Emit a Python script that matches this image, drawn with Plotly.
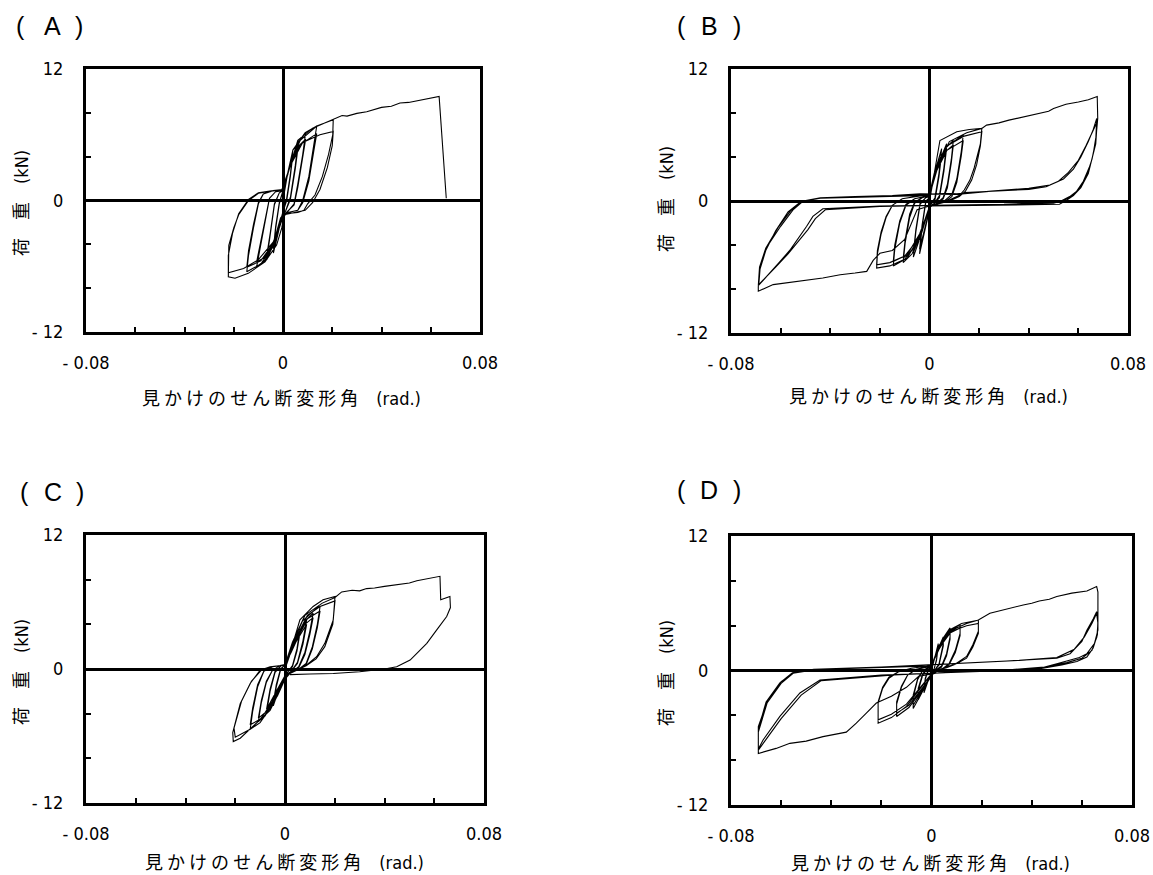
import plotly.graph_objects as go

# ---------------- data (x: rad, y: kN) ----------------
panel_labels = ["A", "B", "C", "D"]
x_tickvals = [-0.08, -0.06, -0.04, -0.02, 0, 0.02, 0.04, 0.06, 0.08]
x_ticktext = ["- 0.08", "", "", "", "0", "", "", "", "0.08"]
y_tickvals = [-12, -8, -4, 0, 4, 8, 12]
y_ticktext = ["- 12", "", "", "0", "", "", "12"]
x_title = "見 か け の せ ん 断 変 形 角　<span style='font-family:Liberation Sans Narrow, DejaVu Sans Condensed, sans-serif'>(rad.)</span>"
y_title = "荷　重　<span style='font-family:Liberation Sans Narrow, DejaVu Sans Condensed, sans-serif'>(kN)</span>"

A_path = [
    (0, 0),
    (0.0020, 2.6), (0.0040, 4.6), (0.0030, 2.4), (0.0015, 0.2), (0.0000, -1.0), (-0.0020, -3.0), (-0.0039, -4.8), (-0.0030, -2.6), (-0.0015, -0.3), (0.0000, 0.9),
    (0.0020, 2.5), (0.0040, 4.2), (0.0030, 2.2), (0.0015, 0.0), (0.0000, -1.0), (-0.0020, -2.8), (-0.0039, -4.4), (-0.0030, -2.4), (-0.0015, -0.2), (0.0000, 0.9),
    (0.0025, 3.0), (0.0062, 5.5), (0.0050, 3.2), (0.0030, 0.3), (0.0010, -1.0), (-0.0010, -1.6), (-0.0035, -3.8), (-0.0066, -5.4), (-0.0052, -3.2), (-0.0035, -0.4), (-0.0015, 0.7), (0.0000, 0.9),
    (0.0025, 2.9), (0.0062, 5.0), (0.0050, 2.9), (0.0030, 0.1), (0.0010, -1.0), (-0.0010, -1.6), (-0.0035, -3.6), (-0.0066, -5.0), (-0.0052, -3.0), (-0.0035, -0.3), (-0.0015, 0.7), (0.0000, 0.9),
    (0.0030, 3.3), (0.0060, 5.2), (0.0092, 6.2), (0.0080, 4.2), (0.0060, 1.5), (0.0045, -0.3), (0.0020, -1.0), (0.0000, -1.5), (-0.0040, -4.2), (-0.0075, -5.5), (-0.0107, -6.05), (-0.0092, -4.2), (-0.0070, -1.5), (-0.0055, 0.2), (-0.0030, 0.8), (0.0000, 0.9),
    (0.0030, 3.2), (0.0060, 4.9), (0.0092, 5.6), (0.0080, 3.8), (0.0060, 1.2), (0.0045, -0.4), (0.0020, -1.0), (0.0000, -1.4), (-0.0040, -4.0), (-0.0075, -5.2), (-0.0107, -5.6), (-0.0092, -3.9), (-0.0070, -1.3), (-0.0055, 0.2), (-0.0030, 0.8), (0.0000, 0.9),
    (0.0030, 3.4), (0.0070, 5.5), (0.0137, 6.8), (0.0125, 5.0), (0.0105, 2.2), (0.0080, 0.0), (0.0060, -0.9), (0.0020, -1.1), (0.0000, -1.5), (-0.0040, -4.1), (-0.0090, -5.8), (-0.0147, -6.5), (-0.0140, -5.0), (-0.0120, -2.5), (-0.0100, -0.3), (-0.0080, 0.6), (-0.0040, 0.9), (0.0000, 1.0),
    (0.0030, 3.2), (0.0070, 5.1), (0.0137, 6.1), (0.0125, 4.5), (0.0105, 1.8), (0.0080, -0.2), (0.0060, -0.9), (0.0020, -1.1), (0.0000, -1.4), (-0.0040, -3.9), (-0.0090, -5.5), (-0.0147, -6.1), (-0.0140, -4.6), (-0.0120, -2.2), (-0.0100, -0.2), (-0.0080, 0.6), (-0.0040, 0.9), (0.0000, 1.0),
    (0.0020, 2.4), (0.0040, 4.6), (0.0090, 6.2), (0.0137, 6.8), (0.0204, 7.36), (0.0202, 6.0), (0.0185, 4.2), (0.0160, 2.2), (0.0130, 0.5), (0.0100, -0.3), (0.0085, -0.9), (0.0060, -1.1), (0.0030, -1.15), (0.0005, -1.3), (-0.0005, -2.5), (-0.0026, -4.07), (-0.0073, -5.6), (-0.0141, -6.65), (-0.0195, -7.1), (-0.0222, -6.96),
    (-0.0222, -5.5), (-0.0220, -4.1), (-0.0200, -2.5), (-0.0180, -1.3), (-0.0140, 0.0), (-0.0100, 0.66), (-0.0050, 0.85), (-0.0005, 0.96),
    (0.0030, 3.2), (0.0080, 5.3), (0.0150, 6.0), (0.0204, 6.3), (0.0200, 5.0), (0.0180, 3.0), (0.0150, 1.0), (0.0120, -0.2), (0.0090, -0.9), (0.0040, -1.1), (0.0005, -1.3), (-0.0040, -3.8), (-0.0100, -5.4), (-0.0160, -6.2), (-0.0222, -6.6),
    (-0.0222, -5.0), (-0.0205, -3.0), (-0.0180, -1.2), (-0.0140, 0.1), (-0.0100, 0.7), (-0.0040, 0.9), (0.0000, 0.95),
    (0.0020, 2.5), (0.0060, 5.5), (0.0120, 6.6), (0.0204, 7.36), (0.0218, 7.5), (0.0240, 7.75), (0.0260, 7.7), (0.0300, 7.95), (0.0340, 8.1), (0.0370, 8.3), (0.0400, 8.5), (0.0440, 8.6), (0.0475, 8.9), (0.0510, 8.95), (0.0540, 9.1), (0.0570, 9.25), (0.0600, 9.4), (0.0634, 9.5), (0.0663, 0.2),
]

B_path = [
    (0, 0),
    (0.0020, 2.5), (0.0049, 4.75), (0.0038, 2.5), (0.0022, 0.3), (0.0005, -0.3), (-0.0018, -2.6), (-0.0040, -4.8), (-0.0030, -2.4), (-0.0015, -0.1), (0.0000, 0.3),
    (0.0020, 2.3), (0.0049, 4.3), (0.0038, 2.2), (0.0022, 0.1), (0.0005, -0.3), (-0.0018, -2.4), (-0.0040, -4.4), (-0.0030, -2.2), (-0.0015, 0.0), (0.0000, 0.3),
    (0.0025, 2.8), (0.0069, 5.2), (0.0058, 3.0), (0.0040, 0.5), (0.0020, -0.2), (0.0000, -0.5), (-0.0030, -2.8), (-0.0065, -5.1), (-0.0055, -2.8), (-0.0038, -0.3), (-0.0015, 0.3), (0.0000, 0.4),
    (0.0025, 2.6), (0.0069, 4.8), (0.0058, 2.7), (0.0040, 0.3), (0.0020, -0.2), (0.0000, -0.5), (-0.0030, -2.6), (-0.0065, -4.7), (-0.0055, -2.6), (-0.0038, -0.2), (-0.0015, 0.3), (0.0000, 0.4),
    (0.0030, 3.0), (0.0060, 4.7), (0.0096, 5.5), (0.0088, 3.8), (0.0072, 1.5), (0.0055, 0.3), (0.0030, -0.2), (0.0000, -0.5), (-0.0035, -3.0), (-0.0070, -4.8), (-0.0106, -5.6), (-0.0098, -3.8), (-0.0080, -1.5), (-0.0060, -0.2), (-0.0030, 0.3), (0.0000, 0.5),
    (0.0030, 2.8), (0.0060, 4.4), (0.0096, 5.1), (0.0088, 3.5), (0.0072, 1.2), (0.0055, 0.2), (0.0030, -0.2), (0.0000, -0.5), (-0.0035, -2.8), (-0.0070, -4.5), (-0.0106, -5.2), (-0.0098, -3.5), (-0.0080, -1.2), (-0.0060, -0.1), (-0.0030, 0.3), (0.0000, 0.5),
    (0.0030, 3.0), (0.0070, 5.0), (0.0136, 6.0), (0.0128, 4.5), (0.0110, 2.0), (0.0090, 0.6), (0.0060, 0.0), (0.0020, -0.3), (0.0000, -0.6), (-0.0040, -3.2), (-0.0090, -5.2), (-0.0146, -5.9), (-0.0140, -4.4), (-0.0120, -2.0), (-0.0095, -0.4), (-0.0060, 0.2), (-0.0020, 0.4), (0.0000, 0.6),
    (0.0030, 2.8), (0.0070, 4.6), (0.0136, 5.5), (0.0128, 4.1), (0.0110, 1.7), (0.0090, 0.4), (0.0060, -0.1), (0.0020, -0.3), (0.0000, -0.6), (-0.0040, -3.0), (-0.0090, -4.9), (-0.0146, -5.5), (-0.0140, -4.0), (-0.0120, -1.8), (-0.0095, -0.3), (-0.0060, 0.2), (-0.0020, 0.4), (0.0000, 0.6),
    (0.0020, 2.6), (0.0042, 5.5), (0.0110, 6.3), (0.0160, 6.5), (0.0211, 6.6), (0.0205, 5.2), (0.0196, 4.3), (0.0180, 3.0), (0.0163, 1.9), (0.0140, 1.0), (0.0123, 0.55), (0.0080, 0.1), (0.0030, -0.2), (0.0000, -0.5),
    (-0.0040, -3.5), (-0.0100, -5.3), (-0.0160, -5.9), (-0.0213, -6.1), (-0.0210, -4.8), (-0.0195, -3.0), (-0.0175, -1.5), (-0.0150, -0.4), (-0.0110, 0.2), (-0.0050, 0.4), (0.0000, 0.6),
    (0.0030, 3.2), (0.0070, 5.0), (0.0140, 5.9), (0.0211, 6.3), (0.0205, 5.0), (0.0190, 3.3), (0.0170, 1.9), (0.0145, 0.9), (0.0120, 0.4), (0.0080, 0.0), (0.0030, -0.3), (0.0000, -0.5),
    (-0.0040, -3.3), (-0.0100, -5.0), (-0.0160, -5.6), (-0.0213, -5.8), (-0.0210, -4.5), (-0.0195, -2.8), (-0.0175, -1.4), (-0.0150, -0.4), (-0.0110, 0.2), (-0.0050, 0.4), (0.0000, 0.6),
    (0.0030, 3.0), (0.0080, 5.4), (0.0150, 6.2), (0.0211, 6.6), (0.0230, 6.9), (0.0280, 7.1), (0.0320, 7.35), (0.0350, 7.5), (0.0400, 7.8), (0.0445, 8.0), (0.0480, 8.15), (0.0500, 8.4), (0.0550, 8.8), (0.0600, 9.0), (0.0640, 9.2), (0.0676, 9.5),
    (0.0678, 7.5), (0.0672, 6.0), (0.0660, 4.3), (0.0640, 2.5), (0.0610, 1.2), (0.0580, 0.5), (0.0555, 0.1), (0.0524, -0.3),
    (0.0400, -0.35), (0.0200, -0.4), (0.0000, -0.45), (-0.0050, -0.8),
    (-0.0100, -3.5), (-0.0150, -4.5), (-0.0200, -4.75), (-0.0227, -5.4), (-0.0253, -6.4), (-0.0300, -6.55), (-0.0360, -6.7), (-0.0430, -7.0), (-0.0495, -7.2), (-0.0560, -7.4), (-0.0630, -7.6), (-0.0690, -8.2),
    (-0.0690, -7.8), (-0.0683, -6.0), (-0.0656, -4.2), (-0.0600, -2.3), (-0.0550, -0.8), (-0.0509, 0.0), (-0.0440, 0.3),
    (-0.0300, 0.4), (-0.0150, 0.5), (-0.0038, 0.65), (0.0000, 0.65), (0.0110, 0.6), (0.0250, 0.9), (0.0400, 1.15), (0.0485, 1.45),
    (0.0540, 2.0), (0.0580, 2.9), (0.0610, 4.0), (0.0640, 5.4), (0.0660, 6.5), (0.0674, 7.5),
    (0.0670, 5.5), (0.0655, 3.8), (0.0630, 2.1), (0.0600, 1.0), (0.0565, 0.4), (0.0530, 0.0), (0.0500, -0.2),
    (0.0300, -0.3), (0.0000, -0.4), (-0.0200, -0.45), (-0.0430, -0.7),
    (-0.0470, -1.4), (-0.0495, -2.3), (-0.0530, -3.4), (-0.0560, -4.4), (-0.0610, -5.7), (-0.0656, -6.9), (-0.0690, -7.7),
    (-0.0685, -6.0), (-0.0660, -4.3), (-0.0610, -2.4), (-0.0560, -0.9), (-0.0515, -0.05), (-0.0440, 0.25), (-0.0200, 0.4), (0.0000, 0.6), (0.0200, 0.8), (0.0400, 1.05), (0.0470, 1.3),
    (0.0520, 1.8), (0.0560, 2.6), (0.0600, 3.7), (0.0630, 5.0), (0.0655, 6.2), (0.0676, 7.2),
    (0.0670, 5.2), (0.0650, 3.4), (0.0620, 1.8), (0.0590, 0.8), (0.0555, 0.2), (0.0520, -0.1), (0.0300, -0.3), (0.0000, -0.4), (-0.0200, -0.5), (-0.0420, -0.8),
    (-0.0460, -1.6), (-0.0490, -2.6), (-0.0530, -3.7), (-0.0570, -4.8), (-0.0620, -6.0), (-0.0660, -7.0), (-0.0688, -7.6),
    (-0.0683, -6.2), (-0.0660, -4.5), (-0.0620, -2.7), (-0.0570, -1.0), (-0.0520, -0.1), (-0.0450, 0.25), (-0.0200, 0.4), (0.0000, 0.5),
]

C_path = [
    (0, 0),
    (0.0025, 1.6), (0.0060, 3.5), (0.0048, 1.8), (0.0030, 0.3), (0.0010, -0.3), (-0.0020, -1.5), (-0.0047, -3.3), (-0.0035, -1.6), (-0.0018, -0.1), (0.0000, 0.4),
    (0.0025, 1.5), (0.0060, 3.2), (0.0048, 1.6), (0.0030, 0.2), (0.0010, -0.3), (-0.0020, -1.4), (-0.0047, -3.0), (-0.0035, -1.4), (-0.0018, 0.0), (0.0000, 0.4),
    (0.0030, 2.0), (0.0087, 4.4), (0.0072, 2.5), (0.0050, 0.6), (0.0025, -0.2), (0.0000, -0.6), (-0.0035, -2.2), (-0.0074, -3.9), (-0.0060, -2.0), (-0.0040, -0.3), (-0.0015, 0.3), (0.0000, 0.4),
    (0.0030, 1.9), (0.0087, 4.0), (0.0072, 2.2), (0.0050, 0.5), (0.0025, -0.2), (0.0000, -0.6), (-0.0035, -2.0), (-0.0074, -3.6), (-0.0060, -1.8), (-0.0040, -0.2), (-0.0015, 0.3), (0.0000, 0.4),
    (0.0040, 2.5), (0.0080, 4.3), (0.0113, 5.0), (0.0100, 3.4), (0.0080, 1.5), (0.0055, 0.2), (0.0025, -0.3), (0.0000, -0.7), (-0.0040, -2.6), (-0.0080, -4.2), (-0.0107, -4.7), (-0.0095, -3.0), (-0.0075, -1.2), (-0.0050, -0.1), (-0.0020, 0.3), (0.0000, 0.4),
    (0.0040, 2.4), (0.0080, 4.0), (0.0113, 4.6), (0.0100, 3.1), (0.0080, 1.3), (0.0055, 0.1), (0.0025, -0.3), (0.0000, -0.7), (-0.0040, -2.5), (-0.0080, -3.9), (-0.0107, -4.4), (-0.0095, -2.8), (-0.0075, -1.1), (-0.0050, -0.1), (-0.0020, 0.3), (0.0000, 0.4),
    (0.0040, 2.6), (0.0090, 4.8), (0.0141, 5.6), (0.0130, 4.0), (0.0110, 2.0), (0.0085, 0.5), (0.0050, -0.1), (0.0020, -0.3), (0.0000, -0.8), (-0.0050, -3.2), (-0.0100, -4.8), (-0.0140, -5.4), (-0.0130, -3.8), (-0.0110, -1.6), (-0.0085, -0.2), (-0.0050, 0.2), (-0.0020, 0.3), (0.0000, 0.4),
    (0.0040, 2.5), (0.0090, 4.5), (0.0141, 5.2), (0.0130, 3.7), (0.0110, 1.8), (0.0085, 0.4), (0.0050, -0.1), (0.0020, -0.3), (0.0000, -0.8), (-0.0050, -3.0), (-0.0100, -4.5), (-0.0140, -5.0), (-0.0130, -3.5), (-0.0110, -1.4), (-0.0085, -0.2), (-0.0050, 0.2), (-0.0020, 0.3), (0.0000, 0.4),
    (0.0020, 1.4), (0.0060, 4.4), (0.0113, 5.6), (0.0153, 6.2), (0.0201, 6.5), (0.0194, 4.4), (0.0160, 2.3), (0.0127, 1.1), (0.0087, 0.36), (0.0047, -0.1), (0.0020, -0.4), (0.0000, -0.9),
    (-0.0020, -1.9), (-0.0060, -3.7), (-0.0127, -5.1), (-0.0180, -6.2), (-0.0208, -6.5), (-0.0210, -5.7), (-0.0180, -3.1), (-0.0140, -1.3), (-0.0100, -0.1), (-0.0060, 0.2), (0.0000, 0.36),
    (0.0030, 2.2), (0.0070, 4.3), (0.0130, 5.5), (0.0201, 6.1), (0.0192, 4.0), (0.0160, 2.0), (0.0125, 0.9), (0.0085, 0.3), (0.0045, -0.1), (0.0020, -0.4), (0.0000, -0.9),
    (-0.0030, -2.4), (-0.0080, -4.1), (-0.0140, -5.4), (-0.0200, -6.1), (-0.0205, -5.3), (-0.0175, -2.9), (-0.0135, -1.1), (-0.0095, -0.1), (-0.0055, 0.2), (0.0000, 0.36),
    (0.0030, 2.4), (0.0080, 4.8), (0.0150, 5.9), (0.0201, 6.4), (0.0228, 6.9), (0.0270, 7.05), (0.0300, 7.0), (0.0328, 7.2), (0.0360, 7.25), (0.0400, 7.4), (0.0462, 7.6), (0.0500, 7.7), (0.0530, 7.9), (0.0580, 8.1), (0.0623, 8.3),
    (0.0626, 6.2), (0.0650, 6.4), (0.0663, 6.5), (0.0665, 5.5), (0.0650, 4.7), (0.0610, 3.5), (0.0570, 2.3), (0.0530, 1.4), (0.0503, 0.8), (0.0449, 0.2), (0.0400, 0.0), (0.0300, -0.25), (0.0194, -0.4), (0.0100, -0.45), (0.0020, -0.5),
]

D_path = [
    (0, 0),
    (0.0012, 1.2), (0.0027, 2.4), (0.0020, 1.0), (0.0010, 0.1), (0.0000, -0.3), (-0.0015, -1.0), (-0.0030, -2.0), (-0.0025, -0.8), (-0.0012, 0.1), (0.0000, 0.3),
    (0.0012, 1.1), (0.0027, 2.2), (0.0020, 0.9), (0.0010, 0.1), (0.0000, -0.3), (-0.0015, -0.9), (-0.0030, -1.8), (-0.0025, -0.7), (-0.0012, 0.1), (0.0000, 0.3),
    (0.0020, 1.6), (0.0047, 3.0), (0.0047, 2.4), (0.0030, 0.6), (0.0012, 0.0), (0.0000, -0.4), (-0.0025, -1.4), (-0.0053, -2.6), (-0.0053, -1.8), (-0.0035, -0.4), (-0.0015, 0.2), (0.0000, 0.35),
    (0.0020, 1.5), (0.0047, 2.8), (0.0047, 2.2), (0.0030, 0.5), (0.0012, 0.0), (0.0000, -0.4), (-0.0025, -1.3), (-0.0053, -2.4), (-0.0053, -1.6), (-0.0035, -0.3), (-0.0015, 0.2), (0.0000, 0.35),
    (0.0025, 1.8), (0.0050, 3.0), (0.0074, 3.8), (0.0074, 3.0), (0.0060, 1.5), (0.0040, 0.4), (0.0015, 0.0), (0.0000, -0.4), (-0.0030, -1.6), (-0.0055, -2.7), (-0.0073, -3.4), (-0.0073, -2.4), (-0.0055, -0.8), (-0.0035, 0.0), (-0.0015, 0.25), (0.0000, 0.4),
    (0.0025, 1.7), (0.0050, 2.8), (0.0074, 3.5), (0.0074, 2.8), (0.0060, 1.3), (0.0040, 0.3), (0.0015, 0.0), (0.0000, -0.4), (-0.0030, -1.5), (-0.0055, -2.5), (-0.0073, -3.1), (-0.0073, -2.2), (-0.0055, -0.7), (-0.0035, 0.0), (-0.0015, 0.25), (0.0000, 0.4),
    (0.0030, 2.0), (0.0070, 3.5), (0.0114, 4.1), (0.0114, 3.3), (0.0095, 1.8), (0.0070, 0.6), (0.0040, 0.1), (0.0010, -0.2), (0.0000, -0.5), (-0.0040, -1.8), (-0.0090, -3.3), (-0.0139, -4.1), (-0.0139, -3.0), (-0.0120, -1.5), (-0.0095, -0.4), (-0.0060, 0.1), (-0.0020, 0.3), (0.0000, 0.45),
    (0.0030, 1.9), (0.0070, 3.3), (0.0114, 3.8), (0.0114, 3.1), (0.0095, 1.6), (0.0070, 0.5), (0.0040, 0.1), (0.0010, -0.2), (0.0000, -0.5), (-0.0040, -1.7), (-0.0090, -3.1), (-0.0139, -3.8), (-0.0139, -2.8), (-0.0120, -1.4), (-0.0095, -0.4), (-0.0060, 0.1), (-0.0020, 0.3), (0.0000, 0.45),
    (0.0030, 2.2), (0.0070, 3.6), (0.0120, 4.2), (0.0187, 4.5), (0.0187, 3.5), (0.0165, 2.3), (0.0140, 1.25), (0.0100, 0.65), (0.0060, 0.3), (0.0020, 0.0), (0.0000, -0.3),
    (-0.0040, -1.5), (-0.0100, -3.2), (-0.0160, -4.2), (-0.0213, -4.7), (-0.0213, -2.9), (-0.0195, -1.6), (-0.0170, -0.7), (-0.0130, -0.1), (-0.0080, 0.2), (-0.0030, 0.35), (0.0000, 0.45),
    (0.0030, 2.0), (0.0080, 3.5), (0.0140, 4.0), (0.0187, 4.2), (0.0187, 3.3), (0.0165, 2.1), (0.0140, 1.1), (0.0100, 0.6), (0.0060, 0.25), (0.0020, 0.0), (0.0000, -0.3),
    (-0.0040, -1.4), (-0.0100, -3.0), (-0.0160, -3.9), (-0.0213, -4.4), (-0.0213, -2.8), (-0.0195, -1.5), (-0.0170, -0.6), (-0.0130, -0.1), (-0.0080, 0.2), (-0.0030, 0.35), (0.0000, 0.45),
    (0.0030, 2.2), (0.0080, 3.6), (0.0140, 4.2), (0.0187, 4.5), (0.0233, 5.1), (0.0300, 5.5), (0.0366, 5.85), (0.0400, 6.0), (0.0430, 6.2), (0.0470, 6.35), (0.0500, 6.6), (0.0560, 6.9), (0.0620, 7.1), (0.0659, 7.5),
    (0.0664, 7.0), (0.0664, 5.5), (0.0664, 3.6), (0.0650, 2.4), (0.0620, 1.5), (0.0590, 1.15), (0.0553, 0.95), (0.0500, 0.6), (0.0433, 0.2), (0.0300, 0.0), (0.0150, -0.1), (0.0030, -0.2),
    (-0.0050, -0.5), (-0.0100, -1.5), (-0.0160, -2.3), (-0.0220, -2.9), (-0.0260, -3.8), (-0.0300, -4.7), (-0.0340, -5.5), (-0.0433, -5.9), (-0.0500, -6.3), (-0.0565, -6.5), (-0.0620, -6.95), (-0.0691, -7.4),
    (-0.0691, -5.5), (-0.0656, -2.9), (-0.0600, -1.15), (-0.0552, -0.25), (-0.0471, 0.05), (-0.0350, 0.2), (-0.0200, 0.3), (0.0000, 0.5), (0.0128, 0.65), (0.0300, 0.85), (0.0500, 1.1),
    (0.0553, 1.5), (0.0600, 2.6), (0.0620, 3.6), (0.0645, 4.6), (0.0659, 5.25),
    (0.0664, 4.5), (0.0662, 3.2), (0.0645, 2.0), (0.0620, 1.2), (0.0580, 0.8), (0.0520, 0.5), (0.0433, 0.15), (0.0250, -0.05), (0.0050, -0.2), (-0.0200, -0.4), (-0.0445, -0.85),
    (-0.0525, -2.0), (-0.0605, -4.1), (-0.0672, -6.2), (-0.0691, -7.0),
    (-0.0691, -5.2), (-0.0660, -2.8), (-0.0605, -1.1), (-0.0555, -0.2), (-0.0470, 0.1), (-0.0200, 0.3), (0.0000, 0.5), (0.0150, 0.7), (0.0350, 0.9), (0.0500, 1.15),
    (0.0570, 1.9), (0.0610, 3.0), (0.0640, 4.2), (0.0659, 5.1),
    (0.0664, 4.2), (0.0660, 3.0), (0.0640, 1.8), (0.0600, 1.1), (0.0540, 0.7), (0.0450, 0.3), (0.0300, 0.05), (0.0100, -0.15), (-0.0150, -0.4), (-0.0440, -0.9),
    (-0.0520, -2.2), (-0.0600, -4.3), (-0.0665, -6.3), (-0.0691, -7.1),
    (-0.0691, -5.0), (-0.0655, -2.7), (-0.0600, -1.0), (-0.0550, -0.2), (-0.0460, 0.1), (-0.0200, 0.3), (0.0000, 0.4),
]

paths = [A_path, B_path, C_path, D_path]

# ---------------- layout geometry (page pixels of the 1153 x 875 window) ----------------
W, H = 1153, 875


def fx(p):
    return p / W


def fy(p):
    return 1 - p / H


boxes = [  # left, right, top, bottom (page pixels)
    (86, 480, 69, 332),
    (731, 1128, 69, 333),
    (86, 484, 535, 803),
    (731, 1132, 536, 805),
]
label_pos = [  # "(", letter, ")" x-centres and y-centre
    (21, 52, 79, 26),
    (681, 709, 737, 26),
    (24, 53, 80, 492),
    (681, 709, 737, 490),
]
xtitle_pos = [(281, 397), (928, 395), (284, 861), (930, 862)]
ytitle_pos = [(20, 203), (665, 199), (20, 672), (665, 673)]

TICKFONT = dict(family="Liberation Sans Narrow, Arial Narrow, DejaVu Sans Condensed, sans-serif", size=18, color="black")
CJK = "Noto Sans CJK JP, Noto Sans, sans-serif"
LABELFONT = dict(family="Liberation Sans, Arial, sans-serif", size=25, color="black")

fig = go.Figure()
annotations = []
for i, (path, box) in enumerate(zip(paths, boxes)):
    n = "" if i == 0 else str(i + 1)
    xs = [p[0] for p in path]
    ys = [p[1] for p in path]
    fig.add_trace(go.Scatter(x=xs, y=ys, mode="lines", xaxis="x" + n, yaxis="y" + n,
                             line=dict(color="black", width=1.1), showlegend=False, hoverinfo="skip"))
    l, r, t, b = box
    common = dict(showgrid=False, zeroline=True, zerolinecolor="black", zerolinewidth=3,
                  showline=True, linecolor="black", linewidth=3, mirror=True,
                  ticks="inside", ticklen=5, tickwidth=2, tickcolor="black",
                  tickfont=TICKFONT, fixedrange=True, automargin=False,
                  ticklabeloverflow="allow")
    fig.update_layout(**{
        "xaxis" + n: dict(domain=[fx(l), fx(r)], range=[-0.08, 0.08], anchor="y" + n,
                          tickmode="array", tickvals=x_tickvals, ticktext=x_ticktext,
                          ticklabelstandoff=12, **common),
        "yaxis" + n: dict(domain=[fy(b), fy(t)], range=[-12, 12], anchor="x" + n,
                          tickmode="array", tickvals=y_tickvals, ticktext=y_ticktext,
                          ticklabelstandoff=16, **common),
    })
    px1, px2, px3, py = label_pos[i]
    for txt, px in (("(", px1), (panel_labels[i], px2), (")", px3)):
        annotations.append(dict(text=txt, x=fx(px), y=fy(py), xref="paper", yref="paper",
                                xanchor="center", yanchor="middle", showarrow=False,
                                font=LABELFONT))
    tx, ty = xtitle_pos[i]
    annotations.append(dict(text=x_title, x=fx(tx), y=fy(ty), xref="paper", yref="paper",
                            xanchor="center", yanchor="middle", showarrow=False,
                            font=dict(family=CJK, size=18, color="black")))
    tx, ty = ytitle_pos[i]
    annotations.append(dict(text=y_title, x=fx(tx), y=fy(ty), xref="paper", yref="paper",
                            xanchor="center", yanchor="middle", showarrow=False, textangle=-90,
                            font=dict(family=CJK, size=18, color="black")))

fig.update_layout(width=W, height=H,
                  margin=dict(l=0, r=0, t=0, b=0, pad=0, autoexpand=False),
                  paper_bgcolor="white", plot_bgcolor="white", annotations=annotations)
# remove the default 8px page margin so the figure fills the 1153x875 window exactly
fig.write_html("out.html",
               config={"displayModeBar": False, "staticPlot": True},
               post_script="document.body.style.margin='0';document.body.style.overflow='hidden';")
